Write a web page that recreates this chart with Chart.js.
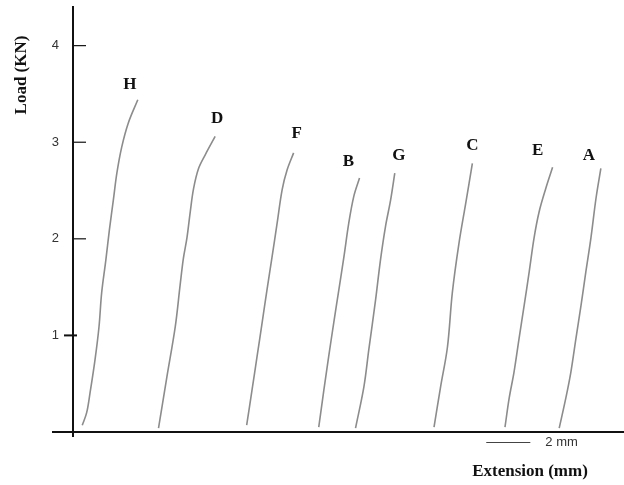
<!DOCTYPE html>
<html>
<head>
<meta charset="utf-8">
<script src="https://cdn.jsdelivr.net/npm/chart.js@4"></script>
<style>
  html, body { margin: 0; padding: 0; background: #fff; }
  #wrap { width: 624px; height: 485px; }
</style>
</head>
<body>
<div id="wrap"><canvas id="loadChart"></canvas></div>
<script>
// curve names and readings: extension (mm) vs load (KN)
const curveNames = ['H', 'D', 'F', 'B', 'G', 'C', 'E', 'A'];

const extH = [0.42, 0.62, 0.77, 1.00, 1.18, 1.30, 1.49, 1.65, 1.83, 1.99, 2.21, 2.51, 2.94];
const loadH = [0.07, 0.20, 0.40, 0.75, 1.09, 1.44, 1.78, 2.09, 2.40, 2.68, 2.95, 3.20, 3.44];

const extD = [3.88, 4.26, 4.64, 4.86, 5.01, 5.17, 5.32, 5.47, 5.70, 6.00, 6.45];
const loadD = [0.04, 0.57, 1.09, 1.52, 1.80, 2.01, 2.28, 2.52, 2.73, 2.87, 3.06];

const extF = [7.88, 8.12, 8.35, 8.58, 8.80, 9.03, 9.26, 9.49, 9.71, 10.01];
const loadF = [0.07, 0.43, 0.78, 1.13, 1.47, 1.81, 2.16, 2.51, 2.71, 2.89];

const extB = [11.15, 11.38, 11.60, 11.83, 12.06, 12.29, 12.51, 12.74, 13.00];
const loadB = [0.05, 0.43, 0.78, 1.13, 1.47, 1.81, 2.16, 2.44, 2.63];

const extG = [12.82, 13.20, 13.42, 13.73, 13.95, 14.18, 14.41, 14.60];
const loadG = [0.04, 0.47, 0.85, 1.37, 1.78, 2.13, 2.40, 2.68];

const extC = [16.38, 16.68, 16.99, 17.21, 17.51, 17.82, 18.12];
const loadC = [0.05, 0.47, 0.88, 1.44, 1.95, 2.37, 2.78];

const extE = [19.60, 19.79, 20.01, 20.24, 20.47, 20.70, 20.92, 21.15, 21.45, 21.76];
const loadE = [0.05, 0.35, 0.62, 0.97, 1.31, 1.66, 2.01, 2.28, 2.52, 2.74];

const extA = [22.06, 22.36, 22.59, 22.82, 23.05, 23.27, 23.50, 23.73, 23.95];
const loadA = [0.04, 0.35, 0.62, 0.97, 1.31, 1.66, 2.01, 2.42, 2.73];

const yTicks = [1, 2, 3, 4];
const scaleBarMm = 2;

const extensions = [extH, extD, extF, extB, extG, extC, extE, extA];
const loads = [loadH, loadD, loadF, loadB, loadG, loadC, loadE, loadA];

const serif = '"Liberation Serif", "DejaVu Serif", serif';
const sans = '"Liberation Sans", Arial, sans-serif';

// label offsets from each curve's top point
const labelShift = {
  H: [-8, -15], D: [2, -18], F: [3, -19], B: [-11, -16],
  G: [4, -18], C: [0, -18], E: [-15, -17], A: [-12, -13]
};

const decorations = {
  id: 'decorations',
  afterDraw(chart) {
    const ctx = chart.ctx;
    const xs = chart.scales.x;
    const ys = chart.scales.y;
    const x0 = xs.getPixelForValue(0);
    const y0 = ys.getPixelForValue(0);

    ctx.save();
    // axis overhangs
    ctx.strokeStyle = '#111';
    ctx.lineWidth = 2;
    ctx.beginPath();
    ctx.moveTo(52, y0); ctx.lineTo(x0, y0);
    ctx.moveTo(x0, y0); ctx.lineTo(x0, y0 + 5);
    ctx.stroke();

    // tick marks
    yTicks.forEach(function (v) {
      const py = ys.getPixelForValue(v);
      ctx.beginPath();
      if (v === 1) { ctx.moveTo(x0 - 9, py); ctx.lineTo(x0 + 4, py); }
      else { ctx.lineWidth = 1.2; ctx.moveTo(x0, py); ctx.lineTo(x0 + 13, py); }
      ctx.stroke();
      ctx.lineWidth = 2;
    });

    // curve labels
    ctx.fillStyle = '#111';
    ctx.font = 'bold 17px ' + serif;
    ctx.textAlign = 'center';
    ctx.textBaseline = 'middle';
    chart.data.datasets.forEach(function (ds) {
      const last = ds.data[ds.data.length - 1];
      const s = labelShift[ds.label] || [0, -17];
      ctx.fillText(ds.label, xs.getPixelForValue(last.x) + s[0], ys.getPixelForValue(last.y) + s[1]);
    });

    // scale bar
    const barStart = xs.getPixelForValue(18.75);
    const barEnd = xs.getPixelForValue(18.75 + scaleBarMm);
    ctx.strokeStyle = '#444';
    ctx.lineWidth = 1;
    ctx.beginPath();
    ctx.moveTo(barStart, 442.5); ctx.lineTo(barEnd, 442.5);
    ctx.stroke();
    ctx.font = '13px ' + sans;
    ctx.fillStyle = '#333';
    ctx.textAlign = 'left';
    ctx.fillText(scaleBarMm + ' mm', barEnd + 15, 442);

    // axis titles
    ctx.fillStyle = '#111';
    ctx.font = 'bold 17px ' + serif;
    ctx.textAlign = 'center';
    ctx.fillText('Extension (mm)', 530, 472);
    ctx.translate(22, 75);
    ctx.rotate(-Math.PI / 2);
    ctx.fillText('Load (KN)', 0, 0);
    ctx.restore();
  }
};

new Chart(document.getElementById('loadChart'), {
  type: 'line',
  data: {
    datasets: curveNames.map(function (name, i) {
      return {
        label: name,
        data: extensions[i].map(function (x, j) { return { x: x, y: loads[i][j] }; }),
        borderColor: '#8c8c8c',
        borderWidth: 1.6,
        pointRadius: 0,
        tension: 0.35,
        fill: false
      };
    })
  },
  options: {
    responsive: true,
    maintainAspectRatio: false,
    animation: false,
    layout: { padding: { top: 7, right: 0, left: 0, bottom: 0 } },
    plugins: { legend: { display: false }, tooltip: { enabled: false } },
    scales: {
      x: {
        type: 'linear',
        min: 0,
        max: 25,
        grid: { display: false, drawTicks: false },
        ticks: { display: false },
        border: { display: true, color: '#111', width: 2 },
        afterFit: function (s) { s.height = 53; s.paddingLeft = 0; s.paddingRight = 0; }
      },
      y: {
        type: 'linear',
        min: 0,
        max: 4.4,
        grid: { display: false, drawTicks: false },
        border: { display: true, color: '#111', width: 2 },
        ticks: {
          stepSize: 1,
          padding: 14,
          color: '#333',
          font: { size: 13, family: sans },
          callback: function (v) { return yTicks.indexOf(v) >= 0 ? String(v) : ''; }
        },
        afterFit: function (s) { s.width = 73; s.paddingTop = 0; s.paddingBottom = 0; }
      }
    }
  },
  plugins: [decorations]
});
</script>
</body>
</html>
